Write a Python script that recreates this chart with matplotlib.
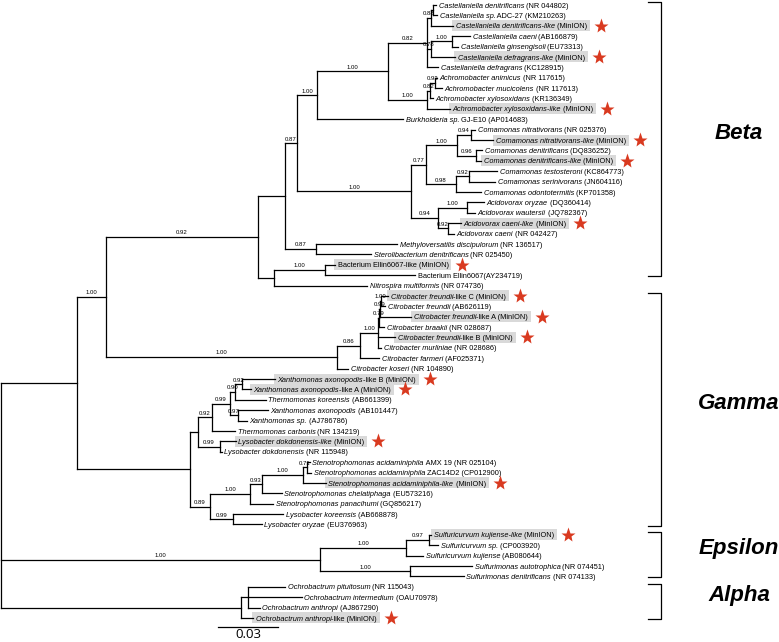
import matplotlib
matplotlib.use("Agg")
import matplotlib.pyplot as plt
from matplotlib.patches import Rectangle

# leaves from top to bottom, text between underscores is italic
leaf_labels = [
    "_Castellaniella denitrificans_ (NR 044802)",
    "_Castellaniella sp._ ADC-27 (KM210263)",
    "_Castellaniella denitrificans-like_ (MinION)",
    "_Castellaniella caeni_ (AB166879)",
    "_Castellaniella ginsengisoli_ (EU73313)",
    "_Castellaniella defragrans-like_ (MinION)",
    "_Castellaniella defragrans_ (KC128915)",
    "_Achromobacter animicus_ (NR 117615)",
    "_Achromobacter mucicolens_ (NR 117613)",
    "_Achromobacter xylosoxidans_ (KR136349)",
    "_Achromobacter xylosoxidans-like_ (MinION)",
    "_Burkholderia sp._ GJ-E10 (AP014683)",
    "_Comamonas nitrativorans_ (NR 025376)",
    "_Comamonas nitrativorans-like_ (MinION)",
    "_Comamonas denitrificans_ (DQ836252)",
    "_Comamonas denitrificans-like_ (MinION)",
    "_Comamonas testosteroni_ (KC864773)",
    "_Comamonas serinivorans_ (JN604116)",
    "_Comamonas odontotermitis_ (KP701358)",
    "_Acidovorax oryzae_ (DQ360414)",
    "_Acidovorax wautersii_ (JQ782367)",
    "_Acidovorax caeni-like_ (MinION)",
    "_Acidovorax caeni_ (NR 042427)",
    "_Methyloversatilis discipulorum_ (NR 136517)",
    "_Sterolibacterium denitrificans_ (NR 025450)",
    "Bacterium Ellin6067-like (MinION)",
    "Bacterium Ellin6067(AY234719)",
    "_Nitrospira multiformis_ (NR 074736)",
    "_Citrobacter freundii_-like C (MinION)",
    "_Citrobacter freundii_ (AB626119)",
    "_Citrobacter freundii_-like A (MinION)",
    "_Citrobacter braakii_ (NR 028687)",
    "_Citrobacter freundii_-like B (MinION)",
    "_Citrobacter murliniae_ (NR 028686)",
    "_Citrobacter farmeri_ (AF025371)",
    "_Citrobacter koseri_ (NR 104890)",
    "_Xanthomonas axonopodis_-like B (MinION)",
    "_Xanthomonas axonopodis_-like A (MinION)",
    "_Thermomonas koreensis_ (AB661399)",
    "_Xanthomonas axonopodis_ (AB101447)",
    "_Xanthomonas sp._ (AJ786786)",
    "_Thermomonas carbonis_ (NR 134219)",
    "_Lysobacter dokdonensis-like_ (MinION)",
    "_Lysobacter dokdonensis_ (NR 115948)",
    "_Stenotrophomonas acidaminiphila_ AMX 19 (NR 025104)",
    "_Stenotrophomonas acidaminiphila_ ZAC14D2 (CP012900)",
    "_Stenotrophomonas acidaminiphila-like_ (MinION)",
    "_Stenotrophomonas chelatiphaga_ (EU573216)",
    "_Stenotrophomonas panacihumi_ (GQ856217)",
    "_Lysobacter koreensis_ (AB668878)",
    "_Lysobacter oryzae_ (EU376963)",
    "_Sulfuricurvum kujiense-like_ (MinION)",
    "_Sulfuricurvum sp._ (CP003920)",
    "_Sulfuricurvum kujiense_ (AB080644)",
    "_Sulfurimonas autotrophica_ (NR 074451)",
    "_Sulfurimonas denitrificans_ (NR 074133)",
    "_Ochrobactrum pituitosum_ (NR 115043)",
    "_Ochrobactrum intermedium_ (OAU70978)",
    "_Ochrobactrum anthropi_ (AJ867290)",
    "_Ochrobactrum anthropi_-like (MinION)",
]
leaf_parent = [
    "J1a", "J1a", "J1", "J2a", "J2a", "J2", "J", "K2", "K2", "K1",
    "K", "G", "H2a", "H2a", "H2b", "H2b", "H3a", "H3a", "H3", "Ac1",
    "Ac1", "Ac2", "Ac2", "F", "F", "El", "El", "N", "Cit5", "Cit5",
    "Cit4", "Cit3", "Cit2", "Cit2", "Cit1", "Cit", "X1e", "X1e", "X1c", "X1d",
    "X1d", "X1a", "Lyso", "Lyso", "X2e", "X2e", "X2d", "X2c", "X2a", "X2b",
    "X2b", "Sc1", "Sc1", "Sc", "Sm", "Sm", "Alp1", "Alp1", "Alp1", "Alp",
]
leaf_length = [
    0.0015, 0.0020, 0.0110, 0.0090, 0.0030, 0.0120, 0.0055, 0.0010, 0.0035, 0.0015,
    0.0115, 0.0430, 0.0020, 0.0110, 0.0030, 0.0025, 0.0140, 0.0130, 0.0125, 0.0085,
    0.0040, 0.0065, 0.0030, 0.0405, 0.0275, 0.0050, 0.0450, 0.0465, 0.0035, 0.0020,
    0.0155, 0.0025, 0.0085, 0.0015, 0.0095, 0.0055, 0.0165, 0.0045, 0.0155, 0.0150,
    0.0045, 0.0115, 0.0080, 0.0010, 0.0015, 0.0020, 0.0115, 0.0100, 0.0115, 0.0250,
    0.0145, 0.0010, 0.0045, 0.0085, 0.0310, 0.0270, 0.0185, 0.0270, 0.0060, 0.0060,
]

# internal nodes
node_names = [
    "root", "A", "B", "C", "D", "E", "G", "I", "J", "J1", "J1a", "J2", "J2a",
    "K", "K1", "K2", "H", "H1", "H2", "H2a", "H2b", "H3", "H3a", "Ac", "Ac1",
    "Ac2", "F", "N", "El", "Cit", "Cit1", "Cit2", "Cit3", "Cit4", "Cit5",
    "X", "X1", "X1a", "X1b", "X1c", "X1e", "X1d", "Lyso", "X2", "X2a", "X2c",
    "X2d", "X2e", "X2b", "Eps", "Sc", "Sc1", "Sm", "Alp", "Alp1",
]
node_parent = [
    None, "root", "A", "B", "C", "D", "E", "G", "I", "J", "J1", "J", "J2",
    "I", "K", "K1", "E", "H", "H1", "H2", "H2", "H1", "H3", "H", "Ac",
    "Ac", "D", "C", "N", "B", "Cit", "Cit1", "Cit2", "Cit3", "Cit4",
    "A", "X", "X1", "X1a", "X1b", "X1c", "X1b", "X1", "X", "X2", "X2a",
    "X2c", "X2d", "X2", "root", "Eps", "Sc", "Eps", "root", "Alp",
]
node_length = [
    0.0, 0.0380, 0.0145, 0.0760, 0.0135, 0.0060, 0.0100, 0.0355, 0.0195, 0.0020, 0.0010, 0.0020, 0.0105,
    0.0195, 0.0015, 0.0025, 0.0570, 0.0075, 0.0155, 0.0070, 0.0095, 0.0150, 0.0065, 0.0135, 0.0145,
    0.0050, 0.0155, 0.0080, 0.0255, 0.1155, 0.0115, 0.0090, 0.0005, 0.0005, 0.0005,
    0.0565, 0.0040, 0.0070, 0.0090, 0.0025, 0.0035, 0.0040, 0.0110, 0.0100, 0.0200, 0.0060,
    0.0205, 0.0020, 0.0115, 0.1595, 0.0430, 0.0115, 0.0450, 0.1200, 0.0035,
]
node_support = [
    "", "", "1.00", "0.92", "", "0.87", "1.00", "1.00", "0.82", "0.88", "", "0.78", "1.00",
    "1.00", "0.82", "0.93", "1.00", "0.77", "1.00", "0.94", "0.96", "0.98", "0.92", "0.94", "1.00",
    "0.92", "0.87", "", "1.00", "1.00", "0.86", "1.00", "0.79", "0.99", "1.00",
    "", "", "0.92", "0.99", "0.90", "0.92", "0.97", "0.99", "0.89", "1.00", "0.93",
    "1.00", "0.71", "0.99", "1.00", "1.00", "0.97", "1.00", "", "",
]

clade_names = ["Beta", "Gamma", "Epsilon", "Alpha"]
clade_first = [0, 28, 51, 56]
clade_last = [26, 50, 55, 59]
scale_length = 0.03

LINE = "black"
BOX = "#d9d9d9"
STAR = "#d93a20"
LEAF_FONT = "Liberation Sans"

fig = plt.figure(figsize=(7.79, 6.42), dpi=100)
ax = fig.add_axes([0, 0, 1, 1])
ax.set_xlim(-0.0005, 0.389)
ax.set_ylim(61.31, -0.48)
ax.axis("off")

# tree geometry
parent_of = dict(zip(node_names, node_parent))
length_of = dict(zip(node_names, node_length))
children = {n: [] for n in node_names}
for n, p in zip(node_names, node_parent):
    if p is not None:
        children[p].append(("node", n))
for i, p in enumerate(leaf_parent):
    children[p].append(("leaf", i))

node_x = {}


def get_x(name):
    if name not in node_x:
        p = parent_of[name]
        node_x[name] = 0.0 if p is None else get_x(p) + length_of[name]
    return node_x[name]


node_y = {}


def child_pos(kind, key):
    if kind == "leaf":
        return get_x(leaf_parent[key]) + leaf_length[key], float(key)
    return get_x(key), get_y(key)


def get_y(name):
    if name not in node_y:
        ys = [child_pos(k, c)[1] for k, c in children[name]]
        node_y[name] = (min(ys) + max(ys)) / 2
    return node_y[name]


for name in node_names:
    x = get_x(name)
    ys = [child_pos(k, c)[1] for k, c in children[name]]
    ax.plot([x, x], [min(ys), max(ys)], color=LINE, lw=0.9,
            solid_capstyle="projecting", zorder=2)
    for k, c in children[name]:
        cx, cy = child_pos(k, c)
        ax.plot([x, cx], [cy, cy], color=LINE, lw=0.9,
                solid_capstyle="projecting", zorder=2)

# support values above the branch leading to each node
for name, sup in zip(node_names, node_support):
    if sup and parent_of[name] is not None:
        px = get_x(parent_of[name])
        ax.annotate(sup, xy=((px + get_x(name)) / 2, get_y(name)),
                    xytext=(0, 1.2), textcoords="offset points",
                    ha="center", va="bottom", fontsize=4.3,
                    family=LEAF_FONT, zorder=4)

# leaf labels, mixed italic / upright
fig.canvas.draw()
renderer = fig.canvas.get_renderer()
to_data = ax.transData.inverted()
for i, label in enumerate(leaf_labels):
    tip = get_x(leaf_parent[i]) + leaf_length[i]
    x_disp, y_disp = ax.transData.transform((tip, i))
    x_disp += 2.5
    start = x_disp
    parts = label.split("_")
    for j, part in enumerate(parts):
        if not part:
            continue
        t = ax.text(x_disp, y_disp - 2.6, part, transform=None,
                    fontsize=5.3, family=LEAF_FONT,
                    style="italic" if j % 2 == 1 else "normal",
                    ha="left", va="baseline", zorder=4)
        x_disp = t.get_window_extent(renderer).x1
    if "MinION" in label:
        (x0, y0) = to_data.transform((start - 3, y_disp - 5.5))
        (x1, y1) = to_data.transform((x_disp + 3, y_disp + 5.5))
        ax.add_patch(Rectangle((x0, y1), x1 - x0, y0 - y1, color=BOX,
                               lw=0, zorder=1))
        sx = to_data.transform((x_disp + 14, y_disp))[0]
        ax.plot(sx, i, marker="*", ms=11, color=STAR, mec="none", zorder=3)

# clade brackets
bx0, bx1 = 0.3235, 0.330
for name, a, b in zip(clade_names, clade_first, clade_last):
    top, bot = a - 0.25, b + 0.1
    ax.plot([bx0, bx1, bx1, bx0], [top, top, bot, bot], color=LINE,
            lw=0.9, zorder=2)
    ax.text(0.369, (top + bot) / 2 - 0.6, name, fontsize=16,
            family="Liberation Sans", weight="bold", style="italic",
            ha="center", va="center")

# scale bar
sb_x = 0.1085
sb_y = 59.87
ax.plot([sb_x, sb_x + scale_length], [sb_y, sb_y], color=LINE, lw=0.9)
ax.text(sb_x + scale_length / 2, sb_y + 0.72, f"{scale_length:.2f}",
        fontsize=9.5, family="Open Sans", ha="center", va="center")

fig.savefig("out.png", dpi=100)
